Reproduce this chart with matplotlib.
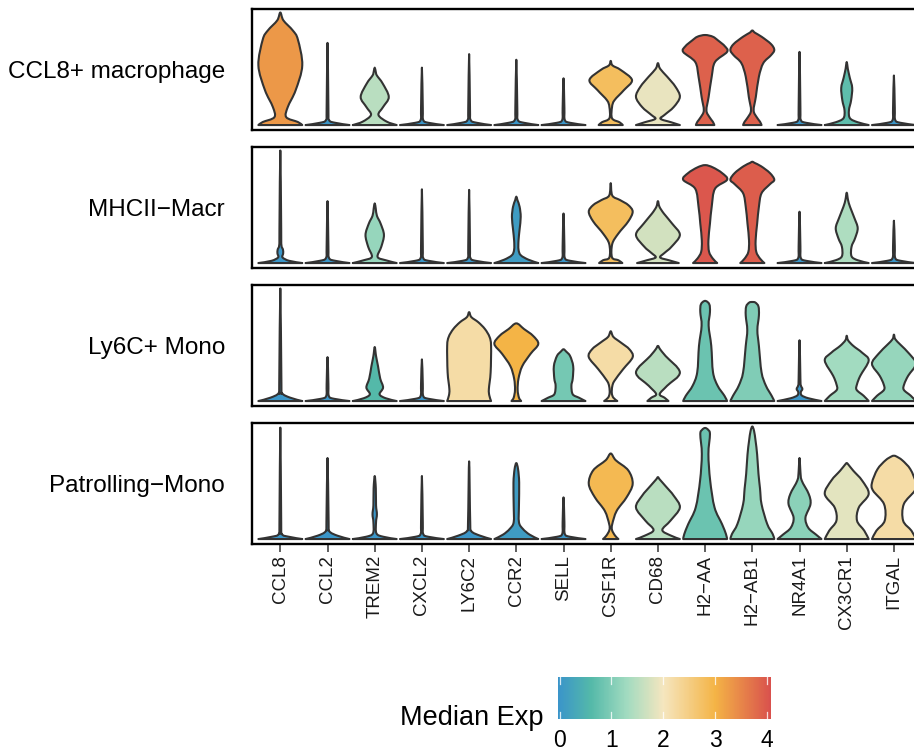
import numpy as np
import matplotlib
matplotlib.use("Agg")
import matplotlib.pyplot as plt
from matplotlib.path import Path
from matplotlib.patches import PathPatch
from matplotlib.colors import LinearSegmentedColormap, Normalize
from matplotlib.cm import ScalarMappable

plt.rcParams['font.family'] = ['Liberation Sans', 'DejaVu Sans']

# ---- data ---------------------------------------------------------------
genes = ["CCL8", "CCL2", "TREM2", "CXCL2", "LY6C2", "CCR2", "SELL",
         "CSF1R", "CD68", "H2\u2212AA", "H2\u2212AB1", "NR4A1", "CX3CR1", "ITGAL"]
clusters = ["CCL8+ macrophage", "MHCII\u2212Macr", "Ly6C+ Mono", "Patrolling\u2212Mono"]

# median expression per cluster (colour of each violin)
med_ccl8 = [3.3, 0, 1.5, 0, 0, 0, 0, 2.8, 1.9, 3.9, 3.9, 0, 0.7, 0]
med_mhcii = [0, 0, 1.2, 0, 0, 0.1, 0, 2.8, 1.7, 4.0, 3.95, 0, 1.4, 0]
med_ly6c = [0, 0, 0.6, 0, 2.2, 3.0, 0.9, 2.2, 1.5, 0.8, 1.0, 0, 1.3, 1.2]
med_patrol = [0, 0, 0, 0, 0, 0.1, 0, 2.9, 1.5, 0.8, 1.2, 1.1, 1.85, 2.2]

# violin outlines: (height, relative half-width)
shapes_ccl8 = [
    [(0, 1.0), (0.027, 0.8), (0.07, 0.27), (0.16, 0.34), (0.31, 0.7), (0.53, 1.0), (0.76, 0.8), (0.84, 0.57), (0.93, 0.14), (1.0, 0)],
    [(0, 1.0), (0.02, 0.35), (0.045, 0.07), (0.15, 0.04), (0.73, 0)],
    [(0, 1.0), (0.03, 0.55), (0.09, 0.17), (0.16, 0.38), (0.25, 0.64), (0.37, 0.36), (0.44, 0.1), (0.47, 0.05), (0.51, 0)],
    [(0, 1.0), (0.02, 0.3), (0.045, 0.06), (0.15, 0.04), (0.51, 0)],
    [(0, 1.0), (0.02, 0.35), (0.045, 0.07), (0.15, 0.04), (0.63, 0)],
    [(0, 1.0), (0.02, 0.35), (0.045, 0.07), (0.15, 0.045), (0.58, 0)],
    [(0, 1.0), (0.02, 0.3), (0.045, 0.06), (0.15, 0.04), (0.415, 0)],
    [(0, 0.55), (0.025, 0.4), (0.06, 0.06), (0.16, 0.06), (0.22, 0.17), (0.31, 0.6), (0.40, 0.97), (0.49, 0.45), (0.53, 0.08), (0.57, 0)],
    [(0, 1.0), (0.025, 0.6), (0.055, 0.12), (0.09, 0.3), (0.16, 0.72), (0.25, 1.0), (0.34, 0.8), (0.43, 0.42), (0.50, 0.1), (0.55, 0)],
    [(0, 0.42), (0.03, 0.35), (0.07, 0.2), (0.13, 0.06), (0.25, 0.16), (0.43, 0.3), (0.56, 0.45), (0.65, 1.0), (0.70, 0.9), (0.75, 0.6), (0.785, 0.35), (0.80, 0)],
    [(0, 0.42), (0.03, 0.35), (0.07, 0.2), (0.13, 0.06), (0.25, 0.16), (0.43, 0.3), (0.55, 0.5), (0.62, 0.85), (0.667, 1.0), (0.72, 0.85), (0.785, 0.42), (0.82, 0.12), (0.84, 0)],
    [(0, 1.0), (0.02, 0.3), (0.045, 0.06), (0.15, 0.04), (0.65, 0)],
    [(0, 1.0), (0.025, 0.5), (0.06, 0.15), (0.13, 0.1), (0.22, 0.2), (0.33, 0.25), (0.42, 0.14), (0.5, 0.05), (0.56, 0)],
    [(0, 1.0), (0.02, 0.3), (0.045, 0.06), (0.15, 0.04), (0.44, 0)],
]
shapes_mhcii = [
    [(0, 1.0), (0.02, 0.4), (0.05, 0.1), (0.085, 0.13), (0.12, 0.12), (0.16, 0.05), (0.3, 0.04), (1.0, 0)],
    [(0, 1.0), (0.02, 0.35), (0.045, 0.07), (0.15, 0.04), (0.55, 0)],
    [(0, 1.0), (0.025, 0.5), (0.055, 0.13), (0.145, 0.3), (0.25, 0.42), (0.35, 0.27), (0.42, 0.1), (0.48, 0.05), (0.53, 0)],
    [(0, 1.0), (0.02, 0.3), (0.045, 0.06), (0.15, 0.04), (0.655, 0)],
    [(0, 1.0), (0.02, 0.3), (0.045, 0.06), (0.15, 0.04), (0.65, 0)],
    [(0, 1.0), (0.03, 0.55), (0.07, 0.2), (0.12, 0.1), (0.2, 0.1), (0.3, 0.15), (0.41, 0.2), (0.5, 0.15), (0.56, 0.05), (0.59, 0)],
    [(0, 1.0), (0.02, 0.3), (0.045, 0.06), (0.15, 0.04), (0.44, 0)],
    [(0, 0.53), (0.025, 0.35), (0.05, 0.06), (0.17, 0.07), (0.26, 0.34), (0.37, 0.8), (0.456, 1.0), (0.515, 0.8), (0.56, 0.42), (0.60, 0.07), (0.71, 0)],
    [(0, 0.95), (0.025, 0.5), (0.05, 0.1), (0.09, 0.3), (0.145, 0.62), (0.25, 1.0), (0.35, 0.65), (0.44, 0.27), (0.5, 0.07), (0.55, 0)],
    [(0, 0.55), (0.04, 0.35), (0.1, 0.18), (0.2, 0.15), (0.35, 0.22), (0.5, 0.3), (0.66, 0.45), (0.74, 1.0), (0.8, 0.77), (0.85, 0.35), (0.87, 0)],
    [(0, 0.55), (0.04, 0.35), (0.1, 0.18), (0.2, 0.15), (0.35, 0.22), (0.5, 0.3), (0.62, 0.42), (0.7, 0.8), (0.74, 1.0), (0.8, 0.8), (0.86, 0.4), (0.89, 0.1), (0.9, 0)],
    [(0, 1.0), (0.02, 0.3), (0.045, 0.06), (0.15, 0.04), (0.456, 0)],
    [(0, 1.0), (0.025, 0.5), (0.06, 0.22), (0.145, 0.22), (0.22, 0.38), (0.31, 0.5), (0.40, 0.35), (0.5, 0.15), (0.56, 0.06), (0.625, 0)],
    [(0, 1.0), (0.02, 0.3), (0.045, 0.06), (0.15, 0.04), (0.376, 0)],
]
shapes_ly6c = [
    [(0, 1.0), (0.03, 0.45), (0.07, 0.08), (0.15, 0.05), (1.0, 0)],
    [(0, 1.0), (0.02, 0.3), (0.045, 0.06), (0.15, 0.04), (0.39, 0)],
    [(0, 1.0), (0.025, 0.5), (0.06, 0.22), (0.12, 0.38), (0.2, 0.25), (0.31, 0.15), (0.4, 0.06), (0.48, 0)],
    [(0, 1.0), (0.02, 0.3), (0.045, 0.06), (0.15, 0.04), (0.37, 0)],
    [(0, 1.0), (0.05, 0.92), (0.107, 0.9), (0.255, 0.98), (0.49, 1.0), (0.57, 0.93), (0.64, 0.72), (0.70, 0.42), (0.746, 0.1), (0.79, 0)],
    [(0, 0.22), (0.03, 0.12), (0.1, 0.06), (0.2, 0.1), (0.31, 0.27), (0.42, 0.65), (0.507, 1.0), (0.58, 0.76), (0.64, 0.35), (0.69, 0)],
    [(0, 1.0), (0.03, 0.7), (0.06, 0.42), (0.136, 0.36), (0.2, 0.42), (0.31, 0.44), (0.4, 0.3), (0.44, 0.12), (0.46, 0)],
    [(0, 0.3), (0.03, 0.12), (0.07, 0.05), (0.13, 0.07), (0.18, 0.17), (0.284, 0.57), (0.39, 1.0), (0.46, 0.85), (0.52, 0.46), (0.57, 0.12), (0.62, 0)],
    [(0, 0.48), (0.03, 0.3), (0.062, 0.08), (0.136, 0.42), (0.255, 1.0), (0.4, 0.35), (0.46, 0.1), (0.49, 0)],
    [(0, 1.0), (0.047, 0.88), (0.136, 0.57), (0.255, 0.36), (0.49, 0.28), (0.67, 0.16), (0.79, 0.22), (0.86, 0.19), (0.89, 0)],
    [(0, 1.0), (0.047, 0.88), (0.136, 0.62), (0.255, 0.42), (0.49, 0.3), (0.63, 0.23), (0.76, 0.3), (0.84, 0.28), (0.875, 0.14), (0.88, 0)],
    [(0, 1.0), (0.025, 0.4), (0.05, 0.1), (0.08, 0.06), (0.107, 0.13), (0.14, 0.06), (0.2, 0.04), (0.54, 0)],
    [(0, 1.0), (0.047, 0.77), (0.1, 0.45), (0.15, 0.47), (0.225, 0.62), (0.36, 1.0), (0.43, 0.7), (0.49, 0.3), (0.54, 0.06), (0.58, 0)],
    [(0, 1.0), (0.047, 0.77), (0.1, 0.45), (0.15, 0.47), (0.225, 0.65), (0.33, 1.0), (0.42, 0.7), (0.5, 0.3), (0.55, 0.06), (0.59, 0)],
]
shapes_patrol = [
    [(0, 1.0), (0.02, 0.4), (0.045, 0.07), (0.15, 0.04), (0.99, 0)],
    [(0, 1.0), (0.03, 0.45), (0.07, 0.08), (0.15, 0.05), (0.72, 0)],
    [(0, 1.0), (0.02, 0.4), (0.05, 0.08), (0.15, 0.06), (0.22, 0.1), (0.3, 0.06), (0.45, 0.05), (0.56, 0)],
    [(0, 1.0), (0.02, 0.3), (0.045, 0.06), (0.15, 0.04), (0.56, 0)],
    [(0, 1.0), (0.03, 0.5), (0.07, 0.1), (0.15, 0.05), (0.69, 0)],
    [(0, 1.0), (0.04, 0.6), (0.09, 0.3), (0.15, 0.12), (0.3, 0.12), (0.5, 0.13), (0.62, 0.08), (0.675, 0)],
    [(0, 1.0), (0.02, 0.3), (0.045, 0.06), (0.15, 0.04), (0.37, 0)],
    [(0, 0.35), (0.03, 0.2), (0.08, 0.06), (0.133, 0.07), (0.25, 0.27), (0.37, 0.72), (0.49, 1.0), (0.61, 0.8), (0.7, 0.23), (0.76, 0)],
    [(0, 1.0), (0.03, 0.6), (0.08, 0.2), (0.163, 0.57), (0.28, 1.0), (0.385, 0.72), (0.47, 0.35), (0.53, 0.08), (0.55, 0)],
    [(0, 1.0), (0.044, 0.95), (0.133, 0.77), (0.28, 0.43), (0.52, 0.23), (0.755, 0.15), (0.93, 0.22), (0.97, 0.14), (0.987, 0)],
    [(0, 1.0), (0.044, 0.93), (0.133, 0.68), (0.31, 0.42), (0.45, 0.35), (0.58, 0.28), (0.75, 0.22), (0.87, 0.15), (0.96, 0.08), (1.0, 0)],
    [(0, 1.0), (0.04, 0.75), (0.1, 0.4), (0.19, 0.27), (0.31, 0.5), (0.4, 0.42), (0.52, 0.1), (0.6, 0.04), (0.72, 0)],
    [(0, 1.0), (0.074, 0.8), (0.163, 0.47), (0.28, 0.55), (0.4, 1.0), (0.52, 0.7), (0.607, 0.3), (0.66, 0.08), (0.675, 0)],
    [(0, 1.0), (0.074, 0.8), (0.163, 0.42), (0.31, 0.45), (0.43, 0.95), (0.5, 1.0), (0.62, 0.75), (0.7, 0.38), (0.735, 0.1), (0.74, 0)],
]

all_shapes = [shapes_ccl8, shapes_mhcii, shapes_ly6c, shapes_patrol]
all_medians = [med_ccl8, med_mhcii, med_ly6c, med_patrol]

# ---- colours -------------------------------------------------------------
VMIN, VMAX = -0.037, 4.08
cmap_vals = [VMIN, 0.6, 1.3, 2.0, 3.0, VMAX]
cmap_cols = ["#3A94CA", "#54B9A9", "#A2DBC0", "#F5E6BF", "#F4B446", "#D9514D"]
norm = Normalize(VMIN, VMAX)
cmap = LinearSegmentedColormap.from_list(
    "medexp", list(zip([norm(v) for v in cmap_vals], cmap_cols)))

EDGE = "#333333"
HALF_W = 0.465


def violin_path(x0, knots):
    right = [(x0 + HALF_W * w, h) for h, w in knots]
    left = [(x0 - HALF_W * w, h) for h, w in knots[::-1]][1:]
    pts = np.array(right + left, dtype=float)
    ext = np.vstack([pts[0], pts, pts[-1]])
    verts = [pts[0]]
    codes = [Path.MOVETO]
    for i in range(len(pts) - 1):
        p0, p1, p2, p3 = ext[i], ext[i + 1], ext[i + 2], ext[i + 3]
        verts += [p1 + (p2 - p0) / 6, p2 - (p3 - p1) / 6, p2]
        codes += [Path.CURVE4] * 3
    verts.append(pts[0])
    codes.append(Path.CLOSEPOLY)
    return Path(verts, codes)


# ---- figure ---------------------------------------------------------------
W, H = 914, 754
fig = plt.figure(figsize=(W / 100, H / 100), dpi=100)

LABEL_FS = 17.5
ax_left = 252 / W
ax_width = 14.2 * 47.2 / W
for r in range(4):
    top_px = 9 + 138 * r
    ax = fig.add_axes([ax_left, 1 - (top_px + 121) / H, ax_width, 121 / H])
    for i, knots in enumerate(all_shapes[r]):
        col = cmap(norm(all_medians[r][i]))
        patch = PathPatch(violin_path(i, knots), facecolor=col, edgecolor=EDGE,
                          lw=1.5, joinstyle="round")
        ax.add_patch(patch)
    ax.set_xlim(-0.6, 13.6)
    ax.set_ylim(-0.044, 1.031)
    ax.set_yticks([])
    for sp in ax.spines.values():
        sp.set_linewidth(1.7)
        sp.set_color("black")
    ax.annotate(clusters[r], xy=(0, 0.5), xycoords="axes fraction",
                xytext=(-19.5, -0.358 * LABEL_FS), textcoords="offset points",
                ha="right", va="baseline", fontsize=LABEL_FS, color="black")
    if r < 3:
        ax.set_xticks([])
    else:
        ax.set_xticks(range(len(genes)))
        ax.set_xticklabels(genes, rotation=90, fontsize=13.5, color="#1a1a1a")
        ax.tick_params(axis="x", length=5.5, width=1.1, color="#333333", pad=2.5)

# ---- colour bar ---------------------------------------------------------
cax = fig.add_axes([557.7 / W, 1 - 719.3 / H, 213.3 / W, 42.6 / H])
cb = fig.colorbar(ScalarMappable(norm=norm, cmap=cmap), cax=cax,
                  orientation="horizontal", ticks=[0, 1, 2, 3, 4])
cb.outline.set_visible(False)
cax.tick_params(length=0, labelsize=16.5, pad=7)
for t in [0, 1, 2, 3, 4]:
    cax.axvline(t, ymin=0, ymax=0.18, color="white", lw=0.9, alpha=0.8)
    cax.axvline(t, ymin=0.82, ymax=1, color="white", lw=0.9, alpha=0.8)
fig.text(544 / W, 1 - 725 / H, "Median Exp", ha="right", va="baseline",
         fontsize=19.5, color="black")

fig.savefig("out.png", dpi=100)
